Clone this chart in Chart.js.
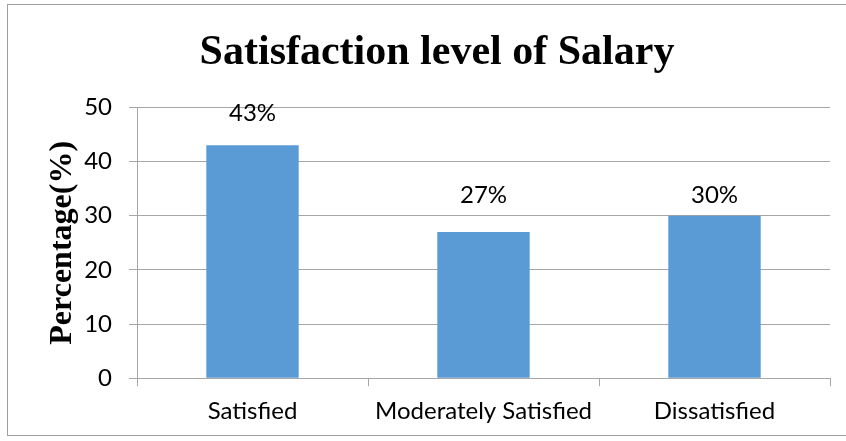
<!DOCTYPE html>
<html>
<head>
<meta charset="utf-8">
<title>Satisfaction level of Salary</title>
<script src="https://cdn.jsdelivr.net/npm/chart.js"></script>
<style>
  html, body { margin: 0; padding: 0; background: #fff; }
  #wrap { position: relative; width: 846px; height: 441px; overflow: hidden; }
  #frame { position: absolute; left: 7px; top: 4px; width: 900px; height: 432px; border: 1px solid #a0a0a0; box-sizing: border-box; }
  canvas { position: absolute; left: 0; top: 0; }
</style>
</head>
<body>
<div id="wrap">
  <div id="frame"></div>
  <canvas id="salaryChart" width="846" height="441"></canvas>
</div>
<script>
// values
const categories = ['Satisfied', 'Moderately Satisfied', 'Dissatisfied'];
const percentages = [43, 27, 30];
const valueLabels = ['43%', '27%', '30%'];
const yTicks = [0, 10, 20, 30, 40, 50];

// how far above each bar its label sits (px), as placed in the original
const labelLift = [32, 37, 20];

const barColor = '#5B9BD5';
const gridColor = '#a6a6a6';
const sansFont = 'Lato, "DejaVu Sans", sans-serif';
const serifFont = '"Liberation Serif", "DejaVu Serif", serif';

// draw the value labels above the bars
const barLabels = {
  id: 'barLabels',
  afterDatasetsDraw(chart) {
    const ctx = chart.ctx;
    const meta = chart.getDatasetMeta(0);
    ctx.save();
    ctx.font = '24px ' + sansFont;
    ctx.fillStyle = '#000';
    ctx.textAlign = 'center';
    ctx.textBaseline = 'middle';
    meta.data.forEach((bar, i) => {
      ctx.fillText(valueLabels[i], bar.x, bar.y - labelLift[i]);
    });
    ctx.restore();
  }
};

const ctx = document.getElementById('salaryChart').getContext('2d');
new Chart(ctx, {
  type: 'bar',
  data: {
    labels: categories,
    datasets: [{
      data: percentages,
      backgroundColor: barColor,
      borderWidth: 0,
      categoryPercentage: 1,
      barPercentage: 0.4
    }]
  },
  options: {
    responsive: false,
    animation: false,
    layout: { padding: { left: 44, right: 16, top: 28, bottom: 4 } },
    plugins: {
      legend: { display: false },
      tooltip: { enabled: false },
      title: {
        display: true,
        text: 'Satisfaction level of Salary',
        color: '#000',
        font: { family: serifFont, size: 42, weight: 'bold' },
        padding: { top: 0, bottom: 29 }
      }
    },
    scales: {
      x: {
        grid: {
          drawOnChartArea: false,
          drawTicks: true,
          tickLength: 8,
          color: gridColor
        },
        border: { color: gridColor },
        ticks: {
          color: '#000',
          padding: 11,
          font: { family: sansFont, size: 24 }
        }
      },
      y: {
        min: 0,
        max: 50,
        afterBuildTicks(axis) {
          axis.ticks = yTicks.map(v => ({ value: v }));
        },
        afterFit(axis) {
          axis.width = 137 - 44;
        },
        grid: {
          color: gridColor,
          tickLength: 8
        },
        border: { color: gridColor },
        ticks: {
          color: '#000',
          padding: 17,
          font: { family: sansFont, size: 24 }
        },
        title: {
          display: true,
          text: 'Percentage(%)',
          color: '#000',
          padding: 0,
          font: { family: serifFont, size: 32, weight: 'bold' }
        }
      }
    }
  },
  plugins: [barLabels]
});
</script>
</body>
</html>
